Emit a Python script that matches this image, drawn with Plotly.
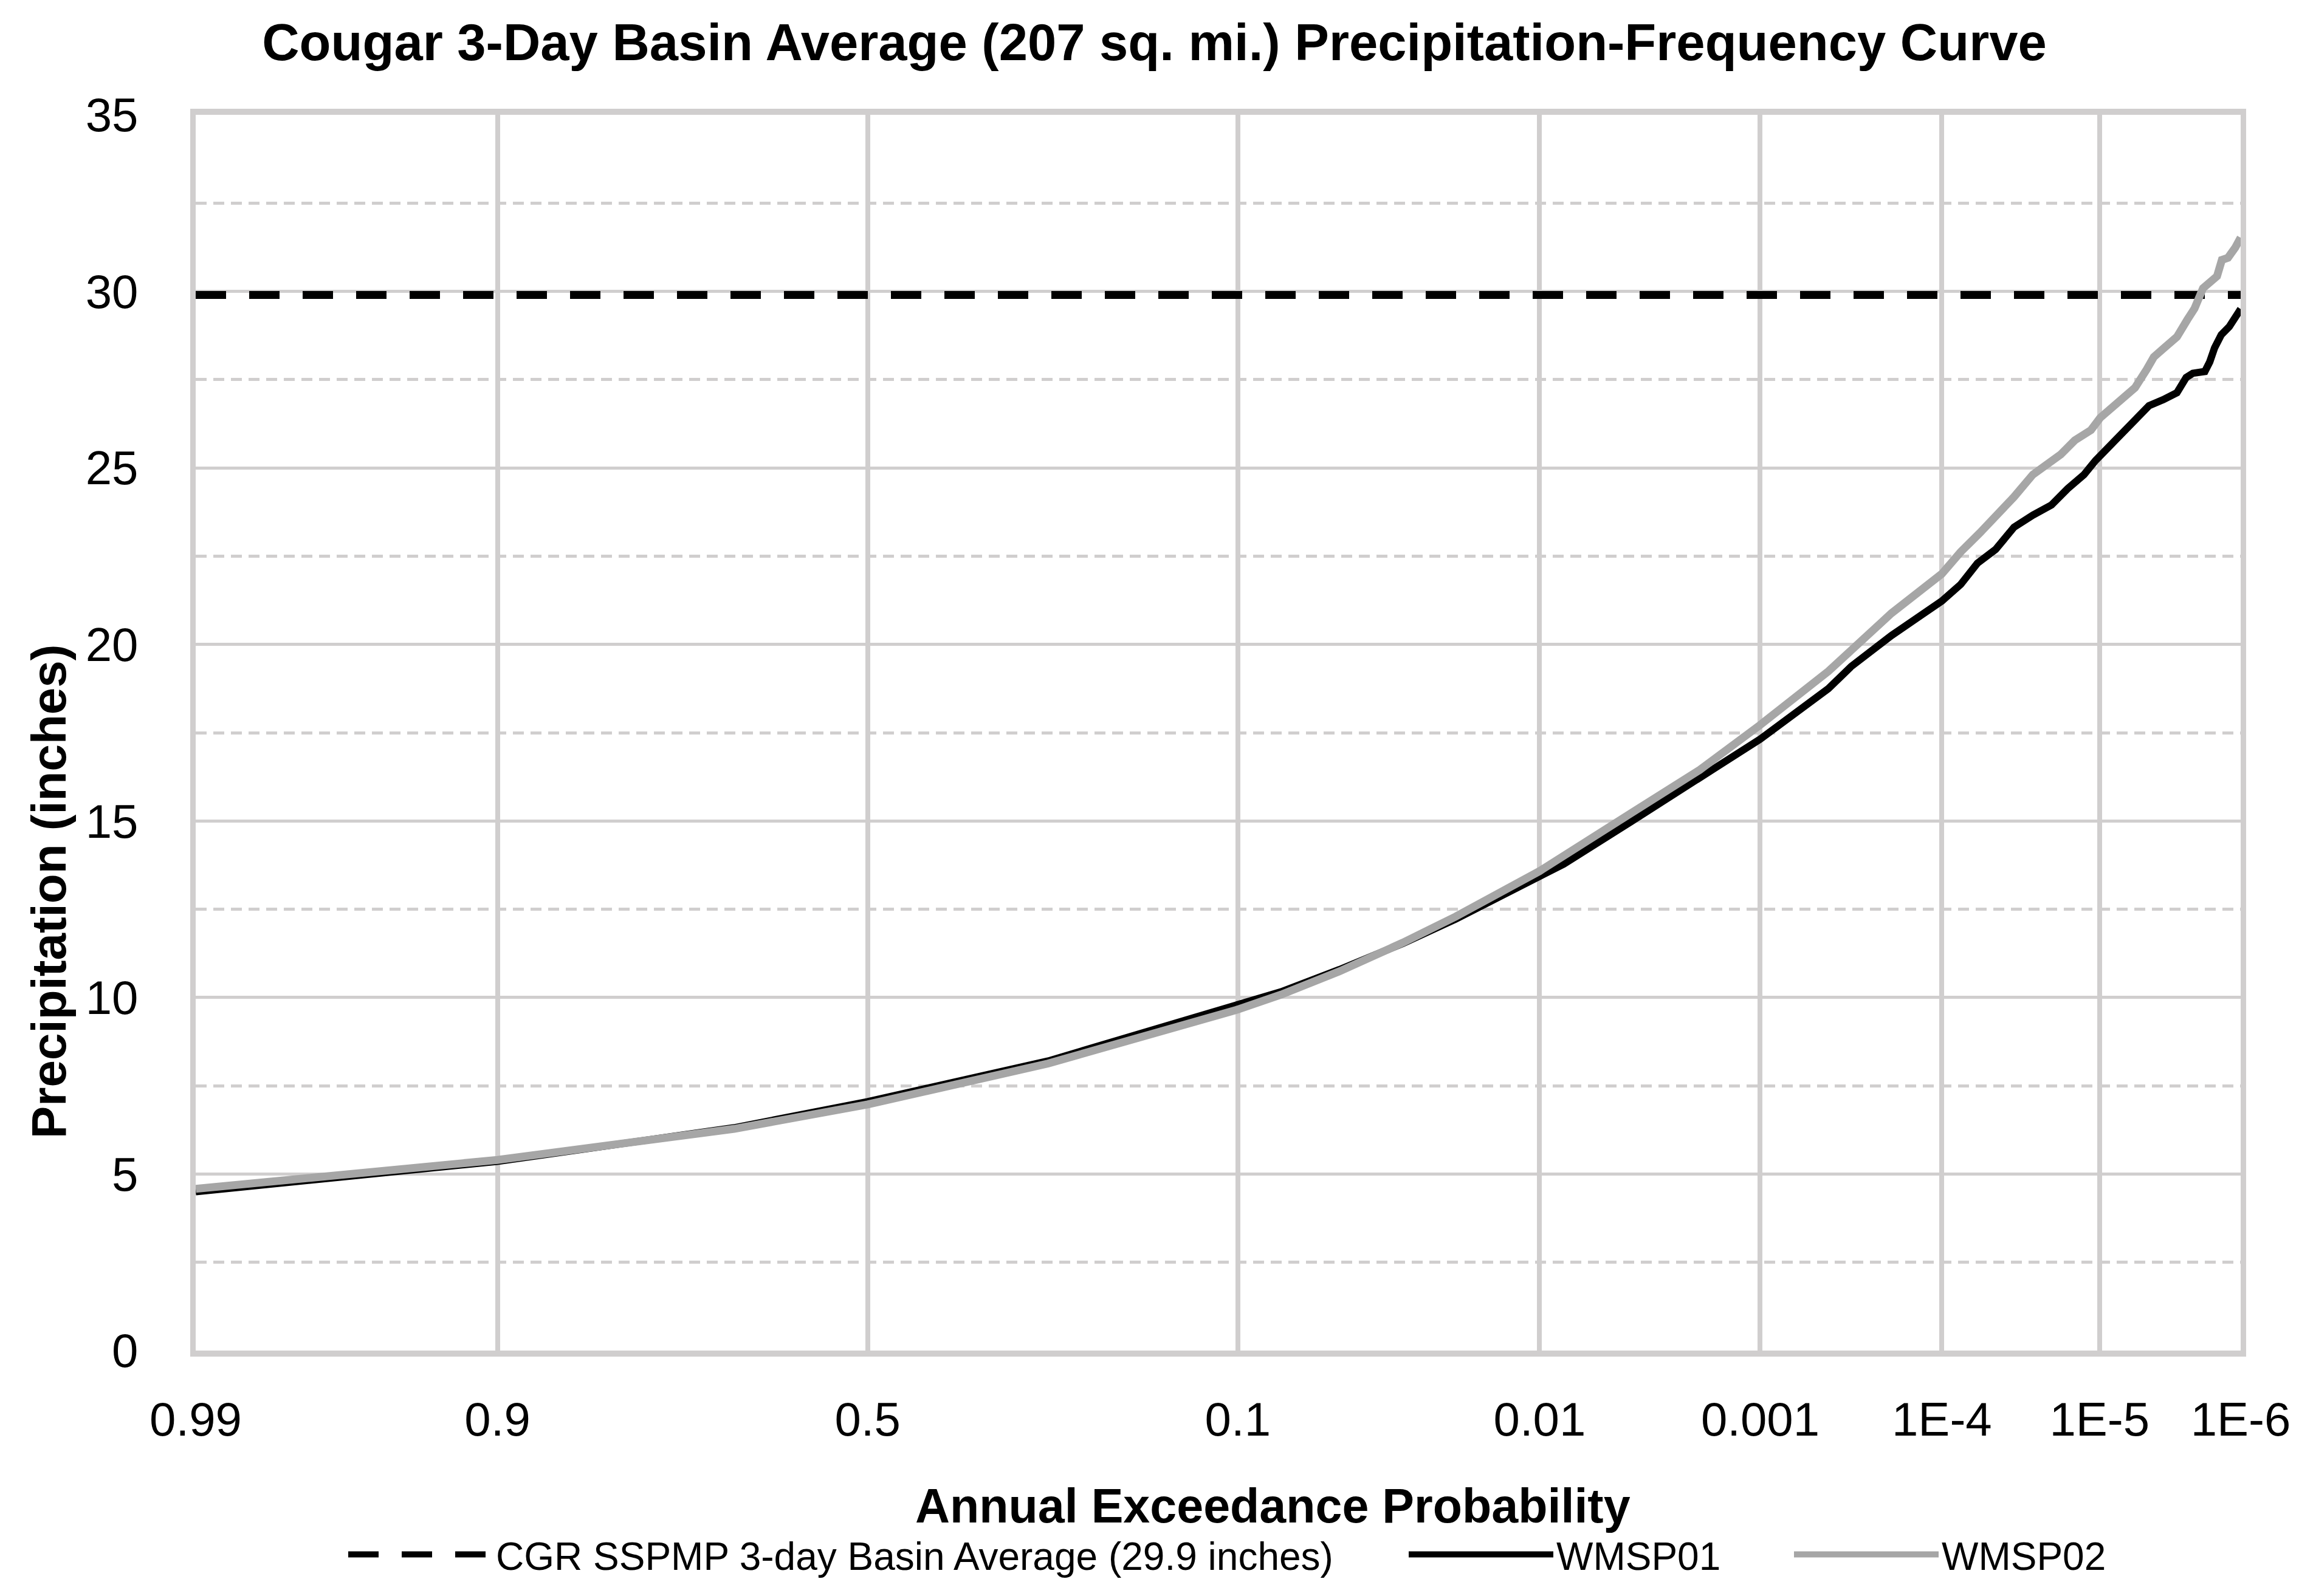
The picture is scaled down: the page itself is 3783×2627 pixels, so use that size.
import plotly.graph_objects as go
from statistics import NormalDist

# ---------------- data ----------------
chart_title = "Cougar 3-Day Basin Average (207 sq. mi.) Precipitation-Frequency Curve"
x_title = "Annual Exceedance Probability"
y_title = "Precipitation (inches)"

tick_aep = [0.99, 0.9, 0.5, 0.1, 0.01, 0.001, 1e-4, 1e-5, 1e-6]
tick_labels = ["0.99", "0.9", "0.5", "0.1", "0.01", "0.001", "1E-4", "1E-5", "1E-6"]

sspmp_name = "CGR SSPMP 3-day Basin Average (29.9 inches)"
sspmp_aep = [0.99, 1e-6]
sspmp_precip = [29.9, 29.9]

wmsp01_name = "WMSP01"
wmsp01_aep = [0.99, 0.9, 0.678, 0.5, 0.266, 0.1, 0.0762, 0.0512, 0.032, 0.0209,
              0.01, 0.00798, 0.00411, 0.00198, 0.001, 4.4e-4, 3.3e-4, 1.97e-4,
              1e-4, 7.71e-5, 6.1e-5, 4.71e-5, 3.61e-5, 2.742e-5, 2.08e-5,
              1.632e-5, 1.271e-5, 1.064e-5, 8.88e-6, 7.15e-6, 5.51e-6, 4.58e-6,
              3.655e-6, 2.91e-6, 2.50e-6, 2.24e-6, 1.833e-6, 1.69e-6, 1.557e-6,
              1.391e-6, 1.215e-6, 1.097e-6, 1e-6]
wmsp01_precip = [4.50, 5.36, 6.31, 7.05, 8.20, 9.76, 10.16, 10.79, 11.53, 12.22,
                 13.40, 13.78, 14.98, 16.22, 17.32, 18.75, 19.38, 20.25,
                 21.23, 21.70, 22.30, 22.69, 23.32, 23.66, 23.95,
                 24.41, 24.81, 25.21, 25.55, 26.01, 26.42, 26.76,
                 26.93, 27.13, 27.56, 27.68, 27.73, 28.00, 28.40,
                 28.77, 29.00, 29.28, 29.50]

wmsp02_name = "WMSP02"
wmsp02_aep = [0.99, 0.9, 0.678, 0.5, 0.266, 0.1, 0.0762, 0.0512, 0.032, 0.0209,
              0.01, 0.00798, 0.00411, 0.00198, 0.001, 4.4e-4, 3.3e-4, 1.97e-4,
              1e-4, 7.71e-5, 5.92e-5, 4.41e-5, 3.61e-5, 2.742e-5, 2.08e-5,
              1.81e-5, 1.464e-5, 1.142e-5, 9.9e-6, 7.96e-6, 6.63e-6, 5.73e-6,
              4.75e-6, 4.24e-6, 3.655e-6, 2.91e-6, 2.45e-6, 2.18e-6, 1.89e-6,
              1.656e-6, 1.494e-6, 1.377e-6, 1.2415e-6, 1.097e-6, 1e-6]
wmsp02_precip = [4.58, 5.40, 6.28, 6.97, 8.13, 9.66, 10.08, 10.74, 11.55, 12.29,
                 13.58, 14.00, 15.22, 16.45, 17.72, 19.24, 19.86, 20.88,
                 22.00, 22.62, 23.15, 23.72, 24.18, 24.81, 25.15,
                 25.38, 25.78, 26.07, 26.42, 26.76, 26.99, 27.27,
                 27.79, 28.14, 28.37, 28.71, 29.20, 29.51, 30.09,
                 30.32, 30.43, 30.89, 30.95, 31.24, 31.52]

y_range = [0, 35]

# ---------------- normal-probability scale ----------------
_nd = NormalDist()


def zscore(p):
    return _nd.inv_cdf(1.0 - p)


def zlist(ps):
    return [zscore(p) for p in ps]


FONT = "Liberation Sans, Arial, sans-serif"
GRID = "#d0cece"
W, H = 3783, 2627
L, R, T, B = 314, 104, 181, 412
plot_w = W - L - R
plot_h = H - T - B

fig = go.Figure()
fig.add_trace(go.Scatter(x=zlist(sspmp_aep), y=sspmp_precip, mode="lines", name=sspmp_name,
                         line=dict(color="black", width=13, dash="50px,38px"),
                         legend="legend"))
fig.add_trace(go.Scatter(x=zlist(wmsp01_aep), y=wmsp01_precip, mode="lines", name=wmsp01_name,
                         line=dict(color="black", width=12), legend="legend2"))
fig.add_trace(go.Scatter(x=zlist(wmsp02_aep), y=wmsp02_precip, mode="lines", name=wmsp02_name,
                         line=dict(color="#a6a6a6", width=13), legend="legend3"))


def px_x(px):
    return px / W


def px_y(py):
    return 1 - py / H


leg_common = dict(orientation="h", xref="container", yref="container",
                  xanchor="left", yanchor="middle", itemwidth=238,
                  font=dict(family=FONT, size=64, color="black"),
                  bgcolor="rgba(0,0,0,0)", borderwidth=0, itemclick=False)

fig.update_layout(
    width=W, height=H,
    margin=dict(l=L, r=R, t=T, b=B, pad=0),
    paper_bgcolor="white", plot_bgcolor="white",
    showlegend=True,
    title=dict(text=chart_title, x=0.5, xanchor="center", xref="container",
               y=px_y(61), yref="container", yanchor="middle",
               font=dict(family=FONT, size=85, color="black", weight="bold")),
    legend=dict(x=px_x(560), y=px_y(2551), **leg_common),
    legend2=dict(x=px_x(2305), y=px_y(2551), **leg_common),
    legend3=dict(x=px_x(2939), y=px_y(2551), **leg_common),
    xaxis=dict(range=[zscore(0.99), zscore(1e-6)], tickmode="array",
               tickvals=zlist(tick_aep), ticktext=tick_labels,
               showgrid=True, gridcolor=GRID, gridwidth=8, zeroline=False,
               showline=True, linecolor=GRID, linewidth=10, mirror=True,
               ticks="", ticklabelstandoff=36,
               tickfont=dict(family=FONT, size=78, color="black")),
    yaxis=dict(range=y_range, tick0=0, dtick=5,
               showgrid=True, gridcolor=GRID, gridwidth=5, zeroline=False,
               showline=True, linecolor=GRID, linewidth=9, mirror=True,
               ticks="", ticklabelstandoff=70,
               minor=dict(tick0=0, dtick=2.5, showgrid=True, gridcolor=GRID,
                          gridwidth=5, griddash="18px,11px"),
               tickfont=dict(family=FONT, size=78, color="black")),
    annotations=[
        dict(text=x_title, xref="paper", yref="paper",
             x=(2086 - L) / plot_w, y=(H - B - 2470) / plot_h,
             xanchor="center", yanchor="middle", showarrow=False,
             font=dict(family=FONT, size=79, color="black", weight="bold")),
        dict(text=y_title, xref="paper", yref="paper",
             x=(72 - L) / plot_w, y=(H - B - 1460) / plot_h,
             xanchor="center", yanchor="middle", showarrow=False, textangle=-90,
             font=dict(family=FONT, size=80, color="black", weight="bold")),
    ],
)

fig.write_html("out.html")
